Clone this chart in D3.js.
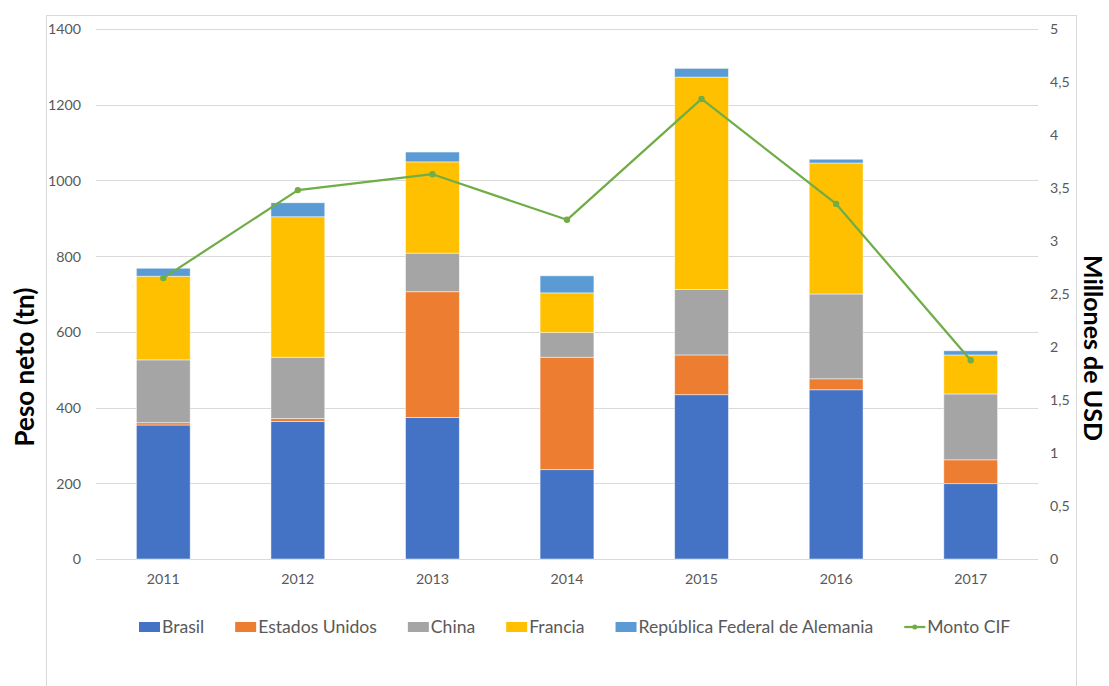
<!DOCTYPE html>
<html>
<head>
<meta charset="utf-8">
<script src="https://cdn.jsdelivr.net/npm/d3@7"></script>
<style>
  html, body { margin: 0; padding: 0; background: #fff; }
  svg { display: block; }
</style>
</head>
<body>
<svg id="chart" width="1109" height="686"></svg>
<script>
// ---- data ----
const years = ["2011", "2012", "2013", "2014", "2015", "2016", "2017"];
const seriesNames = ["Brasil", "Estados Unidos", "China", "Francia", "República Federal de Alemania"];
const brasil   = [354, 363, 374, 236, 434, 447, 199];
const eeuu     = [6, 8, 332, 297, 105, 29, 63];
const china    = [166, 162, 102, 65, 173, 224, 174];
const francia  = [221, 371, 241, 105, 561, 346, 103];
const alemania = [21, 37, 26, 45, 23, 10, 11];
const montoCIF = [2.65, 3.48, 3.63, 3.20, 4.34, 3.35, 1.875];
const lineName = "Monto CIF";
const leftTicks = [0, 200, 400, 600, 800, 1000, 1200, 1400];
const rightTicks = [0, 0.5, 1, 1.5, 2, 2.5, 3, 3.5, 4, 4.5, 5];
const leftTitle = "Peso neto (tn)";
const rightTitle = "Millones de USD";

const colors = ["#4472C4", "#ED7D31", "#A5A5A5", "#FFC000", "#5B9BD5"];
const lineColor = "#70AD47";
const textColor = "#595959";
const gridColor = "#D9D9D9";
const FONT = "Lato, 'Open Sans', sans-serif";

const svg = d3.select("#chart");

// helper: font size so that a string has a given width
function fitSize(str, target, weight) {
  const t = svg.append("text").attr("font-family", FONT).attr("font-weight", weight || "normal")
    .attr("font-size", 100).text(str);
  const w = t.node().getComputedTextLength();
  t.remove();
  return 100 * target / w;
}
const tickSize = fitSize("2011", 33);
const legendSize = fitSize("República Federal de Alemania", 235);
const leftTitleSize = Math.min(fitSize(leftTitle, 195, "bold"), 26);
const rightTitleSize = Math.min(fitSize(rightTitle, 188, "bold"), 25);

// ---- layout ----
const plot = { left: 96, right: 1038, top: 29, bottom: 559 };

// outer frame
svg.append("rect").attr("x", 46.5).attr("y", 15.5).attr("width", 1030).attr("height", 700)
  .attr("fill", "none").attr("stroke", gridColor).attr("stroke-width", 1);

const x = d3.scaleBand().domain(years).range([plot.left, plot.right])
  .paddingInner(0.6).paddingOuter(0.3);
const y = d3.scaleLinear().domain([0, 1400]).range([plot.bottom, plot.top]);
const y2 = d3.scaleLinear().domain([0, 5]).range([plot.bottom, plot.top]);

// gridlines
svg.append("g").selectAll("line").data(leftTicks).join("line")
  .attr("x1", plot.left).attr("x2", plot.right)
  .attr("y1", d => Math.round(y(d)) + 0.5).attr("y2", d => Math.round(y(d)) + 0.5)
  .attr("stroke", gridColor).attr("stroke-width", 1);

// stacked bars
const rows = years.map((yr, i) => ({
  year: yr,
  "Brasil": brasil[i],
  "Estados Unidos": eeuu[i],
  "China": china[i],
  "Francia": francia[i],
  "República Federal de Alemania": alemania[i]
}));
const stacked = d3.stack().keys(seriesNames)(rows);
svg.append("g").selectAll("g").data(stacked).join("g")
  .attr("fill", (d, i) => colors[i])
  .selectAll("rect").data(d => d).join("rect")
  .attr("x", d => x(d.data.year))
  .attr("width", x.bandwidth())
  .attr("y", d => y(d[1]))
  .attr("height", d => y(d[0]) - y(d[1]))
  .attr("stroke", "#ffffff").attr("stroke-opacity", 0.6).attr("stroke-width", 0.8);

// line
const lineGen = d3.line().x((d, i) => x(years[i]) + x.bandwidth() / 2).y(d => y2(d));
svg.append("path").datum(montoCIF).attr("d", lineGen)
  .attr("fill", "none").attr("stroke", lineColor).attr("stroke-width", 2.25)
  .attr("stroke-linejoin", "round");
svg.append("g").selectAll("circle").data(montoCIF).join("circle")
  .attr("cx", (d, i) => x(years[i]) + x.bandwidth() / 2)
  .attr("cy", d => y2(d)).attr("r", 3.2).attr("fill", lineColor);

// left axis
const leftAxis = d3.axisLeft(y).tickValues(leftTicks).tickSize(0).tickPadding(0).tickFormat(d3.format("d"));
const gL = svg.append("g").attr("transform", `translate(81,0)`).call(leftAxis);
gL.select(".domain").remove();
gL.selectAll("text").attr("fill", textColor).attr("font-family", FONT).attr("font-size", tickSize)
  .attr("dy", "0.35em");

// right axis
const fmtR = v => d3.format("")(v).replace(".", ",");
const rightAxis = d3.axisRight(y2).tickValues(rightTicks).tickSize(0).tickPadding(0).tickFormat(fmtR);
const gR = svg.append("g").attr("transform", `translate(1050,0)`).call(rightAxis);
gR.select(".domain").remove();
gR.selectAll("text").attr("fill", textColor).attr("font-family", FONT).attr("font-size", tickSize)
  .attr("dy", "0.35em");

// bottom axis
const bottomAxis = d3.axisBottom(x).tickSize(0).tickPadding(0);
const gB = svg.append("g").attr("transform", `translate(0,${plot.bottom})`).call(bottomAxis);
gB.select(".domain").remove();
gB.selectAll("text").attr("fill", textColor).attr("font-family", FONT).attr("font-size", tickSize)
  .attr("y", 20).attr("dy", "0.35em");

// axis titles
svg.append("text").attr("transform", "translate(25,367) rotate(-90)")
  .attr("text-anchor", "middle").attr("dy", "0.35em")
  .attr("font-family", FONT).attr("font-weight", "bold").attr("font-size", leftTitleSize)
  .attr("fill", "#000").text(leftTitle);
svg.append("text").attr("transform", "translate(1093,348) rotate(90)")
  .attr("text-anchor", "middle").attr("dy", "0.35em")
  .attr("font-family", FONT).attr("font-weight", "bold").attr("font-size", rightTitleSize)
  .attr("fill", "#000").text(rightTitle);

// legend
const legendItems = seriesNames.map((n, i) => ({ name: n, color: colors[i], type: "rect" }))
  .concat([{ name: lineName, color: lineColor, type: "line" }]);
const lg = svg.append("g");
let cx = 139;
const ly = 627;
legendItems.forEach(it => {
  const g = lg.append("g");
  if (it.type === "rect") {
    g.append("rect").attr("x", cx).attr("y", ly - 5).attr("width", 21).attr("height", 10).attr("fill", it.color);
  } else {
    g.append("line").attr("x1", cx).attr("x2", cx + 21).attr("y1", ly).attr("y2", ly)
      .attr("stroke", it.color).attr("stroke-width", 2.25);
    g.append("circle").attr("cx", cx + 10.5).attr("cy", ly).attr("r", 2.5).attr("fill", it.color);
  }
  const t = g.append("text").attr("x", cx + 23).attr("y", ly).attr("dy", "0.35em")
    .attr("font-family", FONT).attr("font-size", legendSize).attr("fill", textColor).text(it.name);
  cx += 23 + t.node().getComputedTextLength() + 31;
});
</script>
</body>
</html>
